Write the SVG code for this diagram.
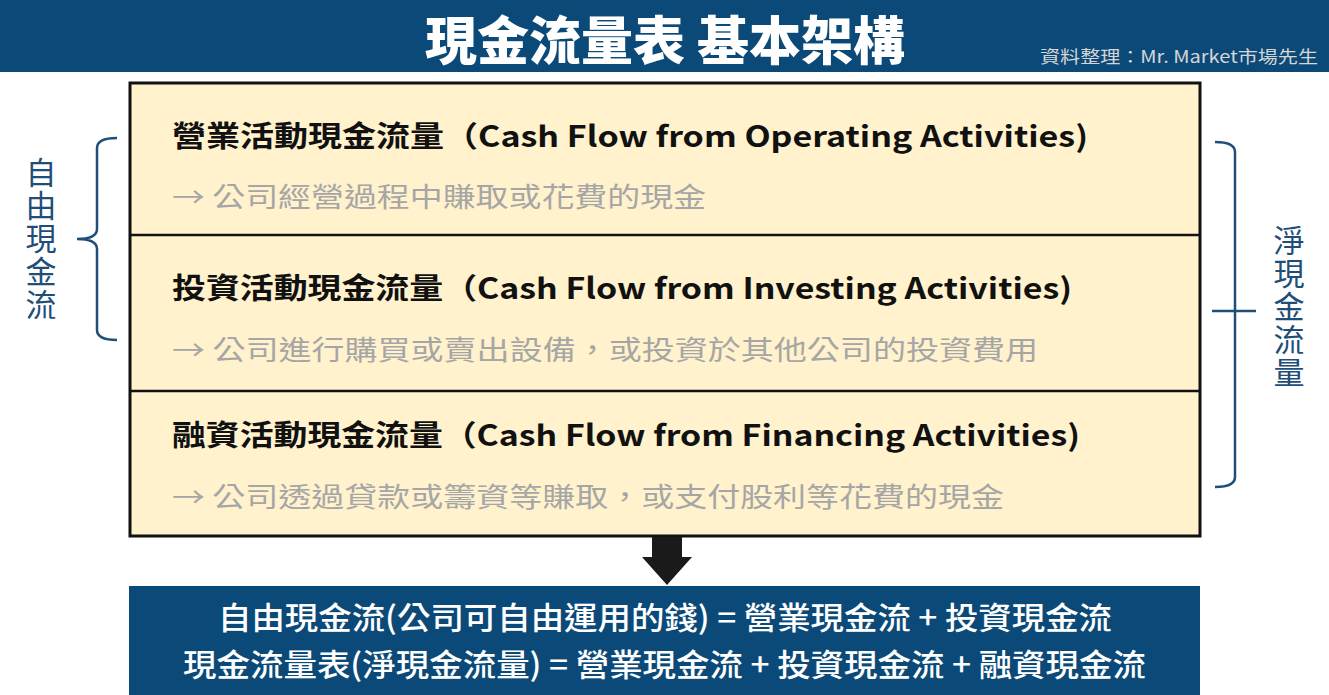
<svg xmlns="http://www.w3.org/2000/svg" width="1329" height="695" viewBox="0 0 1329 695">
<style>
.cjk{font-family:"Noto Sans CJK TC","Noto Sans CJK SC",sans-serif}
.head{font-weight:900;fill:#ffffff}
.sec{font-weight:700;fill:#111111;font-size:29px}
.sub{fill:#a6a6a6;font-size:27px}
.vert{fill:#1f4e79;font-size:31px;writing-mode:vertical-rl;letter-spacing:2px}
.brace{fill:none;stroke:#1f4e79;stroke-width:2.5}
.bot{fill:#ffffff;font-size:31px;font-weight:500}
</style>
<rect width="1329" height="695" fill="#ffffff"/>
<g id="header">
<rect x="0" y="0" width="1329" height="72" fill="#0b4a78"/>
<text class="cjk head" x="425" y="60" font-size="52" textLength="480" lengthAdjust="spacingAndGlyphs">現金流量表 基本架構</text>
<text class="cjk" x="1040" y="63" font-size="17" fill="#d6d6d6" textLength="278" lengthAdjust="spacingAndGlyphs">資料整理：Mr. Market市場先生</text>
</g>
<g id="table">
<rect x="130" y="83" width="1070" height="453" fill="#fff2cc" stroke="#111111" stroke-width="3"/>
<line x1="130" y1="235" x2="1200" y2="235" stroke="#111111" stroke-width="2.5"/>
<line x1="130" y1="391" x2="1200" y2="391" stroke="#111111" stroke-width="2.5"/>
</g>
<g id="operating">
<text class="cjk sec" x="172" y="147" textLength="916" lengthAdjust="spacingAndGlyphs">營業活動現金流量（Cash Flow from Operating Activities)</text>
<text class="cjk sub" x="172" y="207" textLength="534" lengthAdjust="spacingAndGlyphs">→ 公司經營過程中賺取或花費的現金</text>
</g>
<g id="investing">
<text class="cjk sec" x="172" y="299" textLength="900" lengthAdjust="spacingAndGlyphs">投資活動現金流量（Cash Flow from Investing Activities)</text>
<text class="cjk sub" x="172" y="360" textLength="866" lengthAdjust="spacingAndGlyphs">→ 公司進行購買或賣出設備，或投資於其他公司的投資費用</text>
</g>
<g id="financing">
<text class="cjk sec" x="172" y="446" textLength="908" lengthAdjust="spacingAndGlyphs">融資活動現金流量（Cash Flow from Financing Activities)</text>
<text class="cjk sub" x="172" y="507" textLength="832" lengthAdjust="spacingAndGlyphs">→ 公司透過貸款或籌資等賺取，或支付股利等花費的現金</text>
</g>
<g id="free-cash-flow">
<path class="brace" d="M117,138 Q97,138 97,148 L97,229 Q97,239 77,239 Q97,239 97,249 L97,330 Q97,340 117,340"/>
<text class="cjk vert" x="41" y="157">自由現金流</text>
</g>
<g id="net-cash-flow">
<path class="brace" d="M1215,142 Q1235,142 1235,152 L1235,477 Q1235,487 1215,487"/>
<line class="brace" x1="1212" y1="311" x2="1256" y2="311"/>
<text class="cjk vert" x="1289" y="225">淨現金流量</text>
</g>
<g id="connectors">
<polygon points="652,537 682,537 682,557 692,557 667,585 642,557 652,557" fill="#1a1a1a"/>
</g>
<g id="summary">
<rect x="129" y="586" width="1071" height="109" fill="#0b4a78"/>
<text class="cjk bot" x="218" y="629" textLength="894" lengthAdjust="spacingAndGlyphs">自由現金流(公司可自由運用的錢) = 營業現金流 + 投資現金流</text>
<text class="cjk bot" x="183" y="676" textLength="963" lengthAdjust="spacingAndGlyphs">現金流量表(淨現金流量) = 營業現金流 + 投資現金流 + 融資現金流</text>
</g>
</svg>
